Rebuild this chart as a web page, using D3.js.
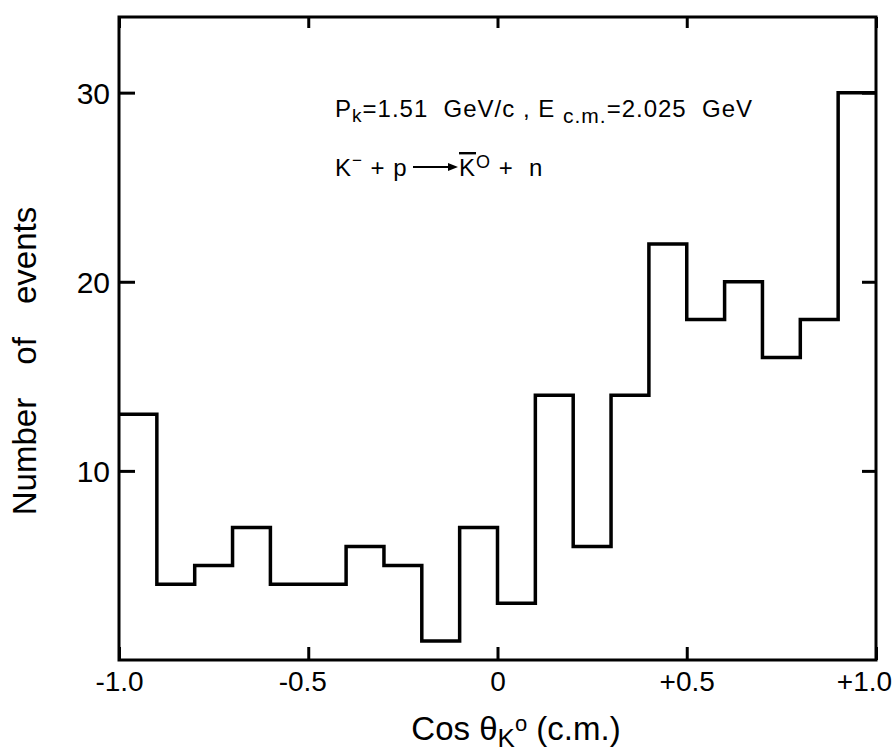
<!DOCTYPE html>
<html>
<head>
<meta charset="utf-8">
<script src="https://cdn.jsdelivr.net/npm/d3@7"></script>
<style>
    body { margin: 0; background: #fff; }
    svg text { font-family: "Liberation Sans", "DejaVu Sans", sans-serif; fill: #000; }
</style>
</head>
<body>
<div id="chart"></div>
<script>
var SVGWidth = 896;
var SVGHeight = 754;

// bin left edges of cos(theta), width 0.1
var binStarts = [-1.0, -0.9, -0.8, -0.7, -0.6, -0.5, -0.4, -0.3, -0.2, -0.1,
                  0.0,  0.1,  0.2,  0.3,  0.4,  0.5,  0.6,  0.7,  0.8,  0.9];
var binWidth = 0.1;
// number of events in each bin
var counts = [13, 4, 5, 7, 4, 4, 6, 5, 1, 7,
              3, 14, 6, 14, 22, 18, 20, 16, 18, 30];

var xTicks = [-1.0, -0.5, 0, 0.5, 1.0];
var xTickLabels = ["-1.0", "-0.5", "0", "+0.5", "+1.0"];
var yTicks = [10, 20, 30];

var x = d3.scaleLinear().domain([-1, 1]).range([119, 876]);
var y = d3.scaleLinear().domain([0, 34]).range([660, 17]);

var svg = d3.select("#chart")
    .append("svg")
        .attr("width", SVGWidth)
        .attr("height", SVGHeight);

// frame
svg.append("rect")
    .attr("x", x(-1))
    .attr("y", y(34))
    .attr("width", x(1) - x(-1))
    .attr("height", y(0) - y(34))
    .attr("fill", "none")
    .attr("stroke", "#000")
    .attr("stroke-width", 3);

// bottom axis, ticks point inside
var bottomAxis = svg.append("g")
    .attr("transform", "translate(0," + y(0) + ")")
    .call(d3.axisBottom(x)
        .tickValues(xTicks)
        .tickSize(-13)
        .tickPadding(11)
        .tickFormat(function(d, i) { return xTickLabels[i]; }));

// top axis, ticks only
var topAxis = svg.append("g")
    .attr("transform", "translate(0," + y(34) + ")")
    .call(d3.axisTop(x).tickValues(xTicks).tickSize(-11).tickFormat(""));

// left axis
var leftAxis = svg.append("g")
    .attr("transform", "translate(" + x(-1) + ",0)")
    .call(d3.axisLeft(y)
        .tickValues(yTicks)
        .tickSize(-16)
        .tickPadding(9));

// right axis, ticks only
var rightAxis = svg.append("g")
    .attr("transform", "translate(" + x(1) + ",0)")
    .call(d3.axisRight(y).tickValues(yTicks).tickSize(-14).tickFormat(""));

[bottomAxis, topAxis, leftAxis, rightAxis].forEach(function(g) {
    g.select(".domain").remove();
    g.selectAll(".tick line").attr("stroke", "#000").attr("stroke-width", 3);
});
bottomAxis.selectAll("text")
    .style("font-size", "28px")
    .attr("dx", function(d) { return d === 1 ? -12 : (d === -0.5 ? -6 : 0); });
leftAxis.selectAll("text").style("font-size", "30px").attr("dy", "0.36em");

// histogram as a step line
var pts = binStarts.map(function(b, i) { return [b, counts[i]]; });
pts.push([binStarts[binStarts.length - 1] + binWidth, counts[counts.length - 1]]);

svg.append("path")
    .datum(pts)
    .attr("fill", "none")
    .attr("stroke", "#000")
    .attr("stroke-width", 3.5)
    .attr("stroke-linejoin", "miter")
    .attr("d", d3.line()
        .x(function(d) { return x(d[0]); })
        .y(function(d) { return y(d[1]); })
        .curve(d3.curveStepAfter));

// axis titles
svg.append("text")
    .attr("transform", "translate(36,361) rotate(-90)")
    .attr("text-anchor", "middle")
    .style("font-size", "33px")
    .style("word-spacing", "24px")
    .text("Number of events");

var xTitle = svg.append("text")
    .attr("x", 516)
    .attr("y", 740)
    .attr("text-anchor", "middle")
    .style("font-size", "33px");
xTitle.append("tspan").text("Cos ");
xTitle.append("tspan").text("θ");
xTitle.append("tspan").attr("dy", 7).style("font-size", "26px").text("K");
xTitle.append("tspan").attr("dy", -16).style("font-size", "22px").text("o");
xTitle.append("tspan").attr("dy", 9).text(" (c.m.)");

// annotation
var line1 = svg.append("text")
    .attr("x", 335)
    .attr("y", 117)
    .attr("xml:space", "preserve")
    .style("font-size", "24px")
    .style("letter-spacing", "1px");
line1.append("tspan").text("P");
line1.append("tspan").attr("dy", 5).style("font-size", "19px").text("k");
line1.append("tspan").attr("dy", -5).text("=1.51  GeV/c , E ");
line1.append("tspan").attr("dy", 6).style("font-size", "21px").text("c.m.");
line1.append("tspan").attr("dy", -6).text("=2.025  GeV");

var line2 = svg.append("text")
    .attr("x", 335)
    .attr("y", 176)
    .attr("xml:space", "preserve")
    .style("font-size", "24px")
    .style("letter-spacing", "1px");
line2.append("tspan").text("K");
line2.append("tspan").attr("dy", -10).style("font-size", "17px").text("−");
line2.append("tspan").attr("dy", 10).text(" + p");

svg.append("line")
    .attr("x1", 413).attr("y1", 167)
    .attr("x2", 450).attr("y2", 167)
    .attr("stroke", "#000")
    .attr("stroke-width", 2);
svg.append("path")
    .attr("d", "M448,163 L458,167 L448,171 Z")
    .attr("fill", "#000");

var line2b = svg.append("text")
    .attr("x", 459)
    .attr("y", 176)
    .attr("xml:space", "preserve")
    .style("font-size", "24px")
    .style("letter-spacing", "1px");
line2b.append("tspan").style("text-decoration", "overline").text("K");
line2b.append("tspan").attr("dy", -8).style("font-size", "18px").text("O");
line2b.append("tspan").attr("dy", 8).text(" +  n");
</script>
</body>
</html>
